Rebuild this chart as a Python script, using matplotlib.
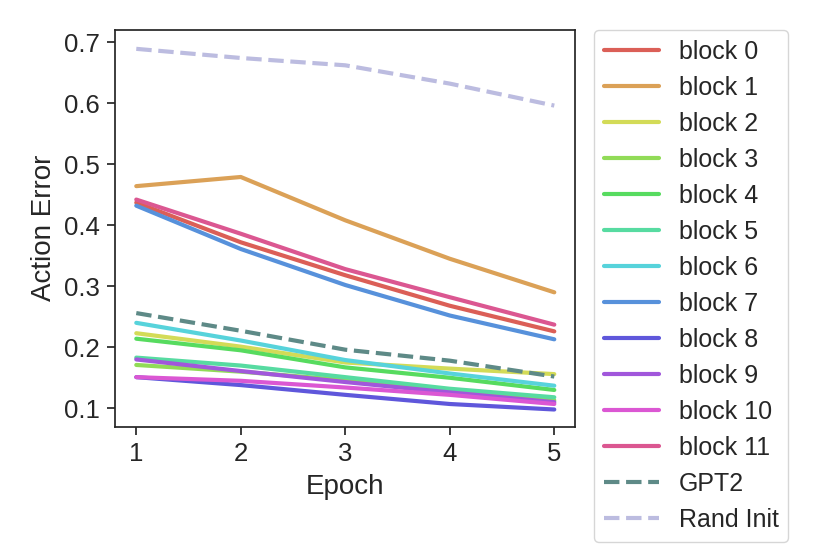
import numpy as np
import matplotlib
matplotlib.use("Agg")
import matplotlib.pyplot as plt
import seaborn as sns

# epochs and action error per GPT2 block
epochs = [1, 2, 3, 4, 5]
block_err = [
    [0.437, 0.372, 0.318, 0.268, 0.226],  # block 0
    [0.464, 0.479, 0.408, 0.345, 0.290],  # block 1
    [0.223, 0.201, 0.175, 0.165, 0.156],  # block 2
    [0.171, 0.160, 0.146, 0.130, 0.113],  # block 3
    [0.214, 0.195, 0.167, 0.150, 0.130],  # block 4
    [0.183, 0.170, 0.151, 0.132, 0.118],  # block 5
    [0.240, 0.211, 0.179, 0.157, 0.137],  # block 6
    [0.432, 0.361, 0.302, 0.252, 0.213],  # block 7
    [0.151, 0.138, 0.122, 0.107, 0.098],  # block 8
    [0.180, 0.161, 0.143, 0.126, 0.110],  # block 9
    [0.151, 0.145, 0.134, 0.122, 0.107],  # block 10
    [0.442, 0.386, 0.328, 0.282, 0.237],  # block 11
]
gpt2_err = [0.256, 0.227, 0.196, 0.178, 0.152]
rand_err = [0.689, 0.674, 0.662, 0.632, 0.596]

sns.set_theme(style="ticks")
plt.rcParams['font.family'] = ['Liberation Sans', 'DejaVu Sans']

colors = sns.color_palette("hls", 12)

fig = plt.figure(figsize=(8.3, 5.54), dpi=100)
ax = fig.add_axes([0.139, 0.230, 0.554, 0.716])

for i, err in enumerate(block_err):
    ax.plot(epochs, err, color=colors[i], lw=3, label=f"block {i}")
ax.plot(epochs, gpt2_err, color="#5e8a87", lw=3, ls="--", label="GPT2")
ax.plot(epochs, rand_err, color="#bcbce0", lw=3, ls="--", label="Rand Init")

ax.set_xticks(epochs)
ax.set_yticks([0.1, 0.2, 0.3, 0.4, 0.5, 0.6, 0.7])
ax.set_xlim(0.8, 5.2)
ax.set_ylim(0.07, 0.72)
ax.tick_params(labelsize=18.5, length=6, width=1.25, pad=5)
ax.set_xlabel("Epoch", fontsize=20, labelpad=6)
ax.set_ylabel("Action Error", fontsize=20, labelpad=5)

ax.legend(loc="upper left", bbox_to_anchor=(1.04, 1.0), fontsize=18,
          handlelength=2.2, labelspacing=0.48, frameon=True, borderaxespad=0)

fig.savefig("out.png", dpi=100)
